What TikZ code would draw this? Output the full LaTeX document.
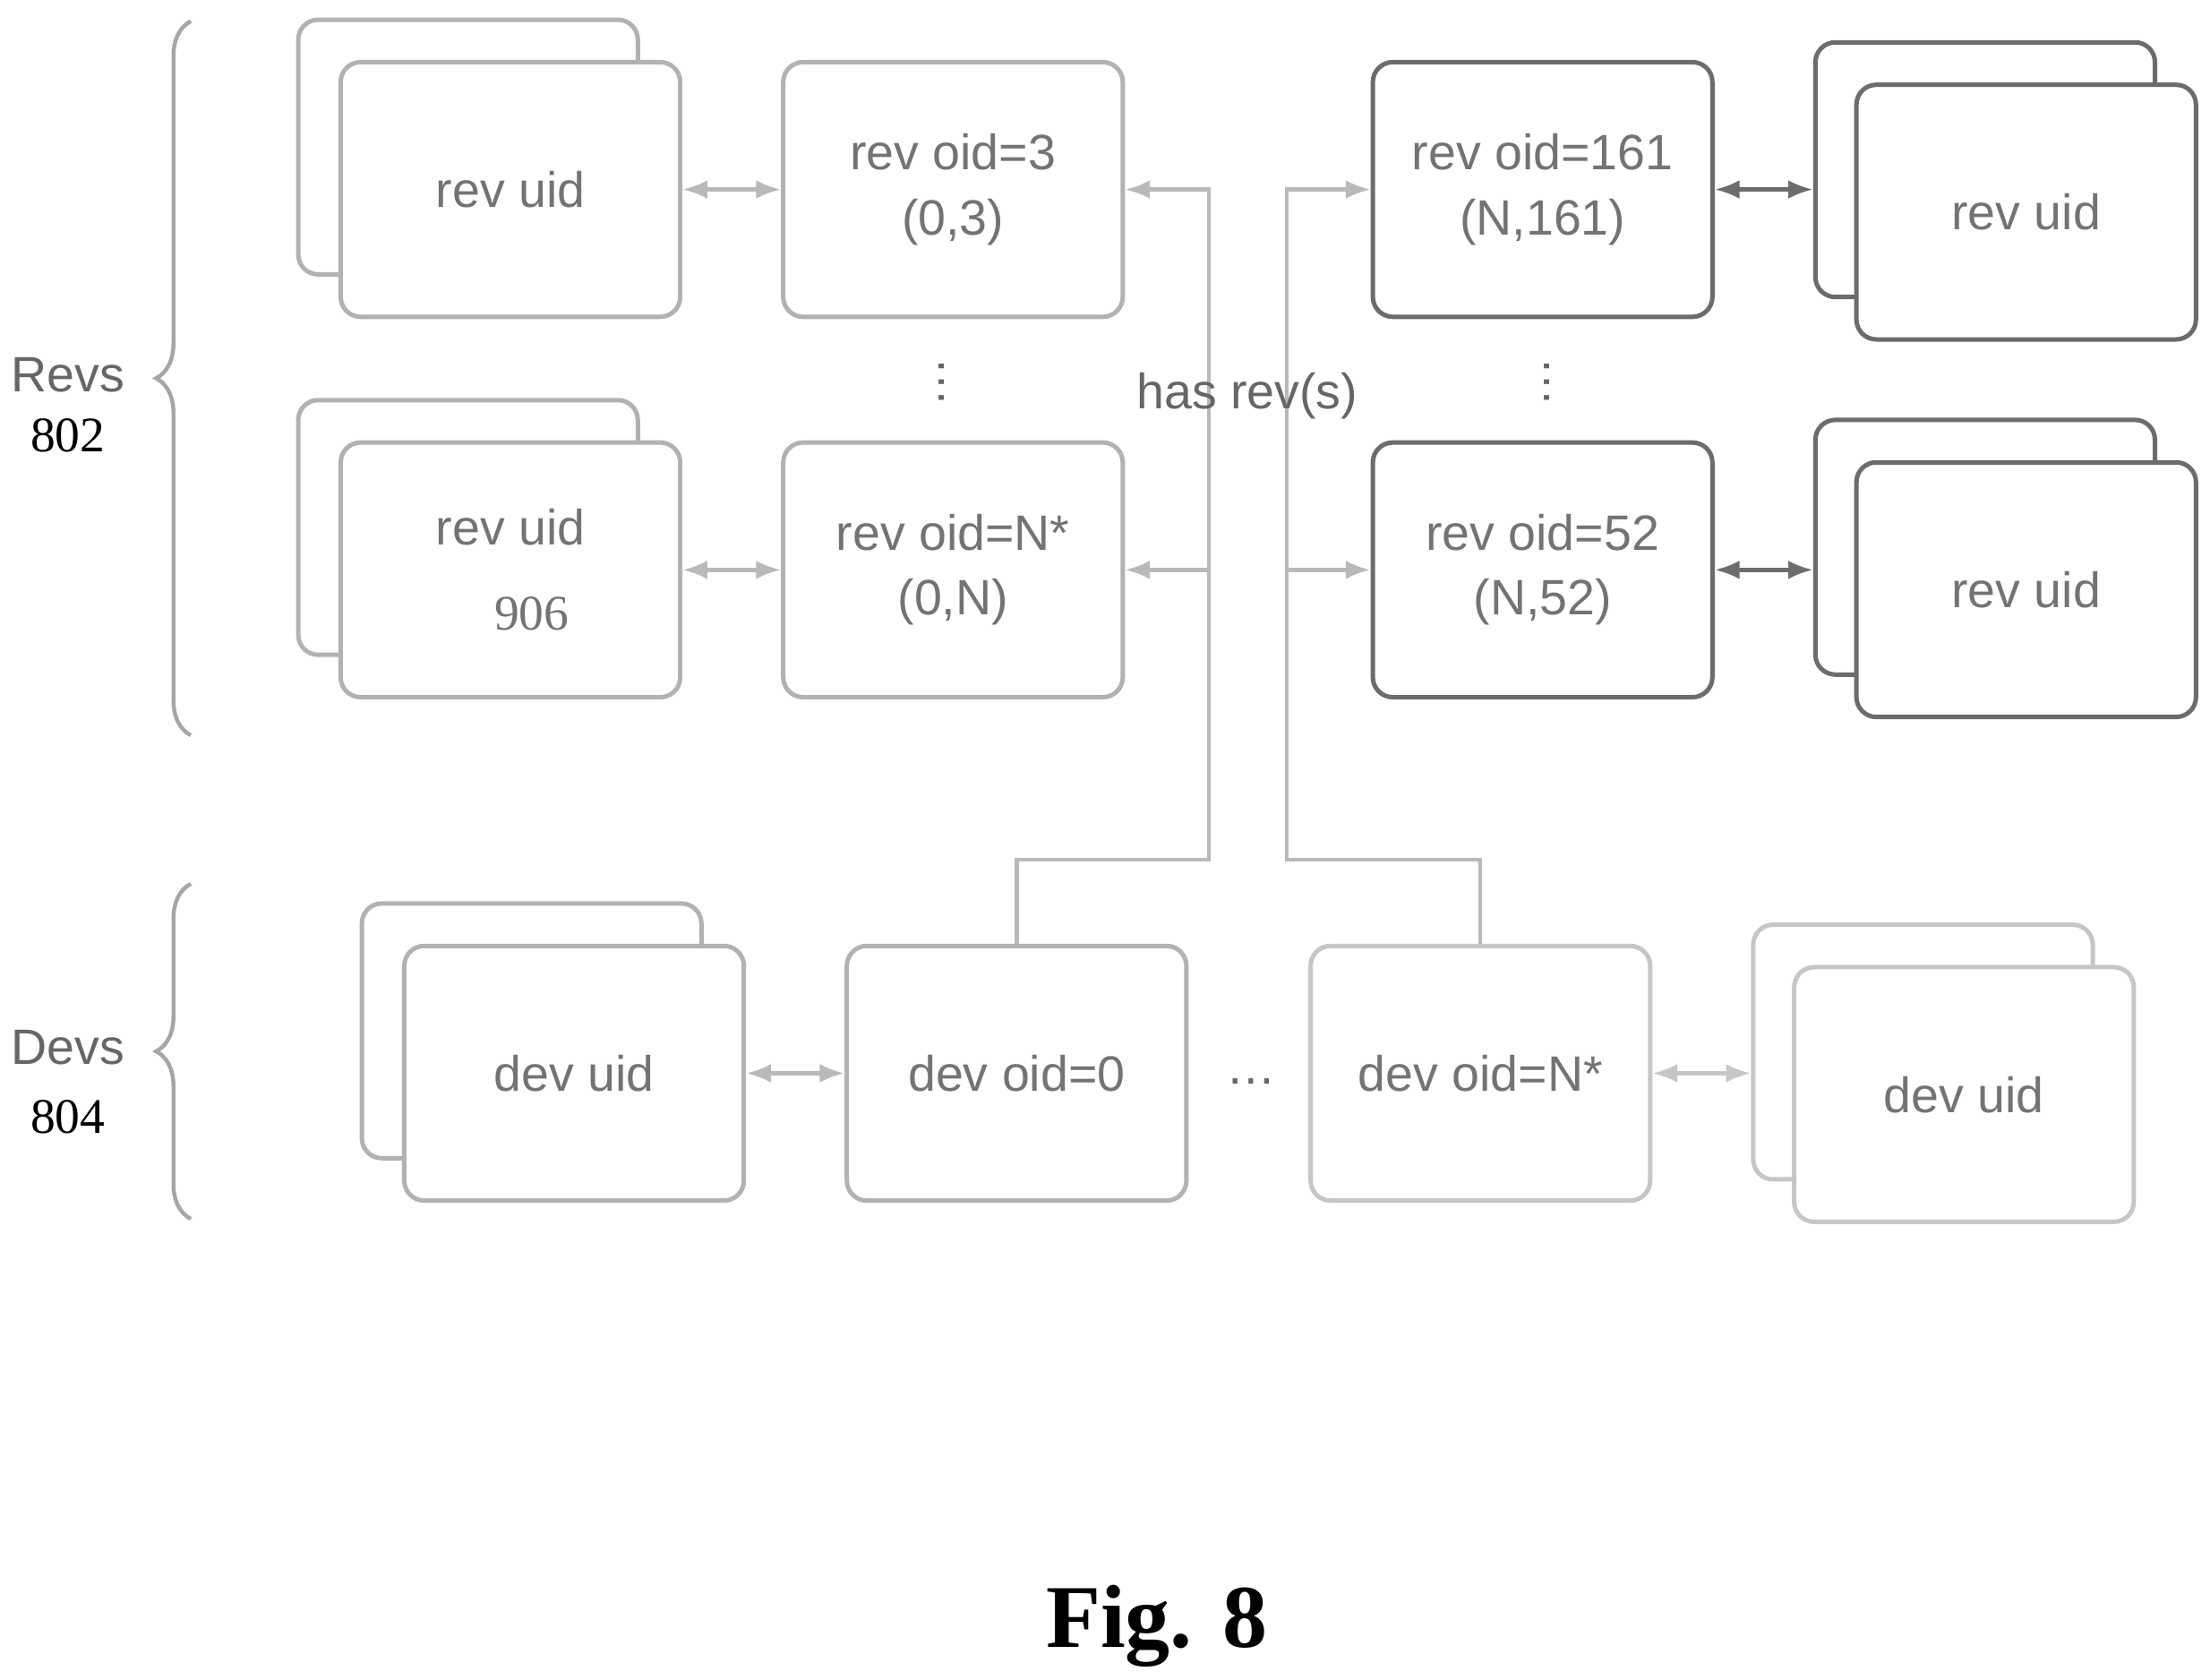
\documentclass[tikz,border=0pt]{standalone}
\usepackage{fontspec}
\setmainfont{Liberation Sans}
\newfontfamily\serifnum{Liberation Serif}
\usetikzlibrary{positioning,decorations.pathreplacing,arrows.meta}
\tikzset{
  box/.style={draw=#1, line width=0.9pt, rounded corners=4pt, fill=white,
    minimum width=2.4cm, minimum height=1.8cm, align=center, inner sep=2pt,
    font=\fontsize{10}{13}\selectfont, text=gray!90!black},
  box/.default={gray!60},
  link/.style={draw=gray!55, line width=0.8pt},
  dbl/.style={link, {Latex[length=5pt]}-{Latex[length=5pt]}},
  one/.style={link, -{Latex[length=5pt]}},
  lbl/.style={font=\fontsize{10}{12}\selectfont, text=gray!80!black},
  num/.style={font=\serifnum\fontsize{10}{12}\selectfont},
}
\begin{document}
\begin{tikzpicture}[x=0.01cm, y=-0.01cm]
\useasboundingbox (0,0) rectangle (1563,1188);
% braces
\draw[gray!70, line width=0.8pt, decorate, decoration={brace, amplitude=7pt}]
  (135,520) -- (135,15);
\draw[gray!70, line width=0.8pt, decorate, decoration={brace, amplitude=7pt}]
  (135,862) -- (135,625);
\node[lbl] (revs) at (48,265) {Revs};
\node[num] (n802) at (48,308) {802};
\node[lbl] (devs) at (48,741) {Devs};
\node[num] (n804) at (48,790) {804};
% left rev uid stacks
\node[box] (luA) at (331,104) {};
\node[box] (lu1) at (361,134) {rev uid};
\node[box] (luB) at (331,373) {};
\node[box] (lu2) at (361,403) {rev uid\\[4pt]\hspace*{0.3cm}\serifnum 906};
% rev oid boxes
\node[box] (ro3) at (674,134) {rev oid=3\\(0,3)};
\node[box] (roN) at (674,403) {rev oid=N*\\(0,N)};
\node[box=gray!85!black] (ro161) at (1091,134) {rev oid=161\\(N,161)};
\node[box=gray!85!black] (ro52) at (1091,403) {rev oid=52\\(N,52)};
% right rev uid stacks
\node[box=gray!85!black] (ruA) at (1404,120) {};
\node[box=gray!85!black] (ru1) at (1433,150) {rev uid};
\node[box=gray!85!black] (ruB) at (1404,387) {};
\node[box=gray!85!black] (ru2) at (1433,417) {rev uid};
\node[lbl] (vd1) at (666,270) {\rotatebox{90}{\dots}};
\node[lbl] (vd2) at (1094,270) {\rotatebox{90}{\dots}};
% dev row
\node[box] (duA) at (376,729) {};
\node[box] (du1) at (406,759) {dev uid};
\node[box] (do0) at (719,759) {dev oid=0};
\node[lbl] (hd) at (885,765) {\dots};
\node[box=gray!45] (doN) at (1047,759) {dev oid=N*};
\node[box=gray!45] (duB) at (1360,744) {};
\node[box=gray!45] (du2) at (1389,774) {dev uid};
% uid <-> oid
\draw[dbl] (lu1.east |- ro3) -- (ro3);
\draw[dbl] (lu2.east |- roN) -- (roN);
\draw[dbl, draw=gray!85!black] (ro161) -- (ruA.west |- ro161);
\draw[dbl, draw=gray!85!black] (ro52) -- (ruB.west |- ro52);
\draw[dbl] (du1.east |- do0) -- (do0);
\draw[dbl, draw=gray!45] (doN) -- (duB.west |- doN);
% has rev(s)
\coordinate (c0) at (855,608);
\coordinate (cN) at (910,608);
\draw[one] (do0.north) |- (c0) |- (ro3.east);
\draw[one] (c0 |- roN) -- (roN.east);
\draw[one] (doN.north) |- (cN) |- (ro161.west);
\draw[one] (cN |- ro52) -- (ro52.west);
\node[lbl] (has) at (882,280) {has rev(s)};
\node[font=\serifnum\bfseries\fontsize{18}{22}\selectfont] (fig) at (818,1150) {Fig. 8};
\end{tikzpicture}
\end{document}
